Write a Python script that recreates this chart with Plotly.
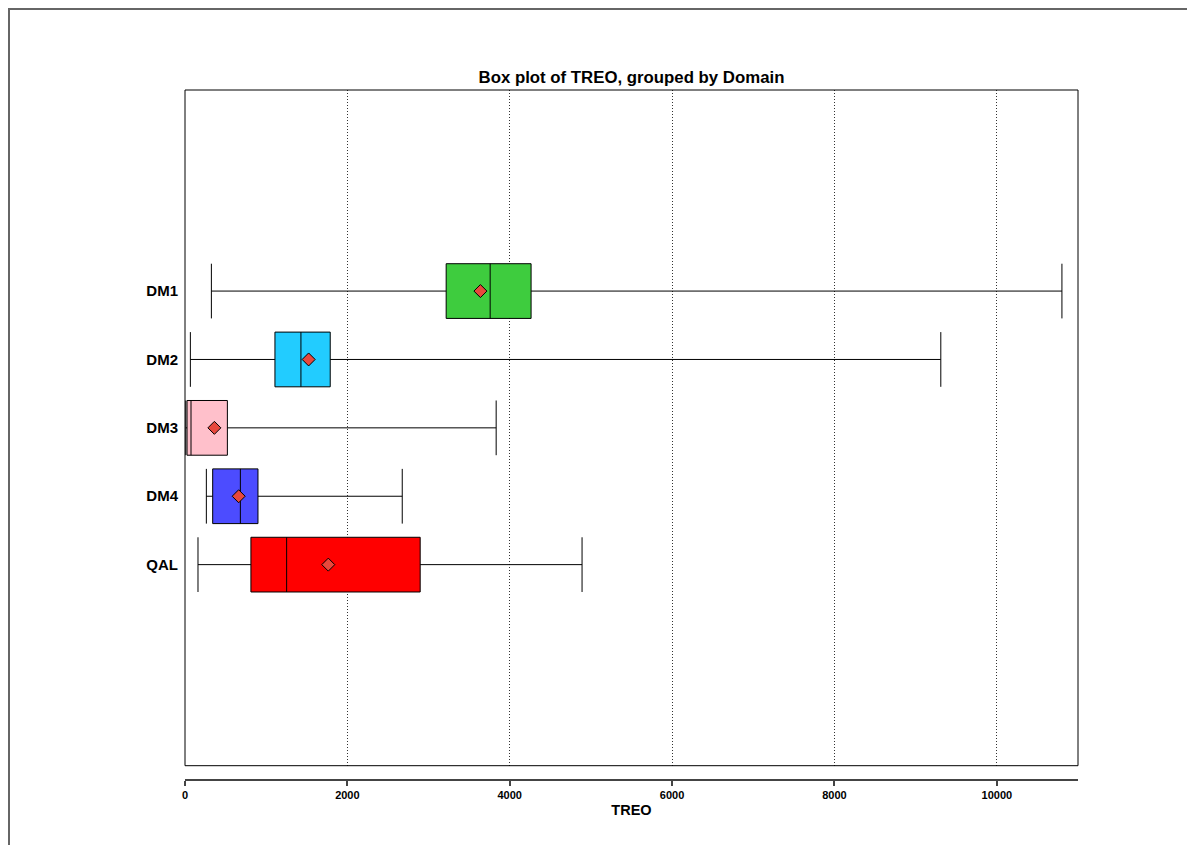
import plotly.graph_objects as go

# summary statistics of TREO per domain
domains = ["DM1", "DM2", "DM3", "DM4", "QAL"]
lower_whisker = [325, 66, 10, 263, 160]
q1 = [3217, 1108, 25, 341, 812]
median = [3759, 1428, 74, 682, 1252]
q3 = [4263, 1789, 522, 899, 2897]
upper_whisker = [10802, 9310, 3833, 2676, 4891]
mean = [3639, 1523, 362, 661, 1765]
box_colors = ["#3ecc3e", "#22ccff", "#ffc0cb", "#4c4cff", "#ff0000"]

x_ticks = [0, 2000, 4000, 6000, 8000, 10000]
x_tick_labels = ["0", "2000", "4000", "6000", "8000", "10000"]

FONT = "Liberation Sans, Arial, Helvetica, sans-serif"

fig = go.Figure()

for i, name in enumerate(domains):
    fig.add_trace(
        go.Box(
            y=[name],
            q1=[q1[i]],
            median=[median[i]],
            q3=[q3[i]],
            lowerfence=[lower_whisker[i]],
            upperfence=[upper_whisker[i]],
            orientation="h",
            width=0.8,
            whiskerwidth=1,
            fillcolor=box_colors[i],
            line=dict(color="black", width=1),
            boxpoints=False,
            hoverinfo="skip",
        )
    )

fig.add_trace(
    go.Scatter(
        x=mean,
        y=domains,
        mode="markers",
        marker=dict(symbol="diamond", size=10, color="#e8483c", line=dict(color="black", width=1)),
        hoverinfo="skip",
    )
)

# plot frame
fig.add_shape(
    type="rect", xref="x domain", yref="y domain",
    x0=0, x1=1, y0=0, y1=1,
    line=dict(color="black", width=1),
)
# outer page border (figure sits 8px inside the page)
fig.add_shape(
    type="rect", xref="paper", yref="paper",
    x0=(1 - 177) / 893, x1=(1220 - 177) / 893,
    y0=(772 - 870) / 690, y1=(772 - 1) / 690,
    line=dict(color="#666666", width=2),
)

fig.update_layout(
    width=1195,
    height=845,
    margin=dict(l=177, r=125, t=82, b=73),
    paper_bgcolor="white",
    plot_bgcolor="white",
    showlegend=False,
    font=dict(family=FONT, color="black"),
    title=dict(
        text="Box plot of TREO, grouped by Domain",
        x=0.5, xref="paper", xanchor="center",
        y=1 - 69 / 845, yref="container", yanchor="middle",
        font=dict(size=16.8, weight="bold", family=FONT),
    ),
    xaxis=dict(
        range=[0, 11000],
        tickvals=x_ticks,
        ticktext=x_tick_labels,
        anchor="free",
        position=0,
        showline=True,
        linecolor="#444444",
        linewidth=1.5,
        ticks="outside",
        ticklen=5,
        tickcolor="#444444",
        tickwidth=1.5,
        tickfont=dict(size=11, weight="bold"),
        showgrid=True,
        gridcolor="#333333",
        griddash="1px,2px",
        gridwidth=1,
        zeroline=False,
        title=dict(text="TREO", font=dict(size=14.5, weight="bold"), standoff=4),
    ),
    yaxis=dict(
        domain=[14.3 / 690, 1],
        type="category",
        categoryorder="array",
        categoryarray=domains,
        range=[6.94, -2.94],
        showgrid=False,
        showline=False,
        zeroline=False,
        ticks="",
        ticklabelstandoff=6,
        tickfont=dict(size=15, weight="bold"),
    ),
)

fig.write_html("out.html")
